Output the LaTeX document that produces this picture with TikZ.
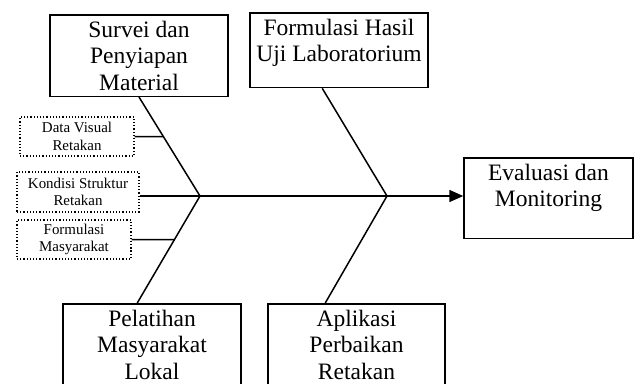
\documentclass[tikz,border=0pt]{standalone}
\usepackage{fontspec}
\setmainfont{Liberation Serif}
\usetikzlibrary{arrows.meta}
\newcommand{\bigtxt}{\fontsize{23.6}{26.6}\selectfont}
\newcommand{\smalltxt}{\fontsize{15}{17.4}\selectfont}

\begin{document}
\begin{tikzpicture}[x=1bp, y=-1bp,
    bone/.style={line width=1.5bp},
    mainbox/.style={draw, line width=1.5bp, font=\bigtxt, align=center,
      anchor=north, inner xsep=2bp, inner ysep=6bp, minimum width=178bp},
    subbox/.style={draw, dotted, line width=1.2bp, font=\smalltxt,
      align=center, inner sep=1bp, minimum width=114bp, minimum height=39bp}]
  \useasboundingbox (0,0) rectangle (635,383);

  % main boxes
  \node[mainbox] (surv) at (139,14) {Survei dan\\Penyiapan\\Material};
  \node[mainbox, text depth=20bp] (formh) at (339,12) {Formulasi Hasil\\Uji Laboratorium};
  \node[mainbox, text depth=10bp] (pelat) at (152,303) {Pelatihan\\Masyarakat\\Lokal};
  \node[mainbox, text depth=10bp, minimum width=177bp] (aplik) at (356.5,303) {Aplikasi\\Perbaikan\\Retakan};
  \node[mainbox, text depth=26bp, minimum width=169bp] (eval) at (548.5,157) {Evaluasi dan\\Monitoring};

  % causes
  \node[subbox] (dataV) at (77,136.5) {Data Visual\\Retakan};
  \node[subbox, minimum width=122bp, minimum height=40bp] (kond) at (78,192) {Kondisi Struktur\\Retakan};
  \node[subbox] (formM) at (74,239.5) {Formulasi\\Masyarakat};

  \coordinate (j1) at (200,196);
  \coordinate (j2) at (387,196);
  \coordinate (b2) at ([xshift=73bp]formh.south west);
  \coordinate (b3) at ([xshift=75bp]pelat.north west);
  \coordinate (b4) at ([xshift=58bp]aplik.north west);

  \draw[bone, -{Triangle[length=14bp, width=12bp]}] (kond.east |- j1) -- (eval.west |- j1);
  \draw[bone] (surv.south) -- (j1) -- (b3);
  \draw[bone] (b2) -- (j2) -- (b4);

  \draw[bone] (dataV.east) -- (intersection of surv.south--j1 and dataV.west--dataV.east);
  \draw[bone] (formM.east) -- (intersection of j1--b3 and formM.west--formM.east);
\end{tikzpicture}
\end{document}
